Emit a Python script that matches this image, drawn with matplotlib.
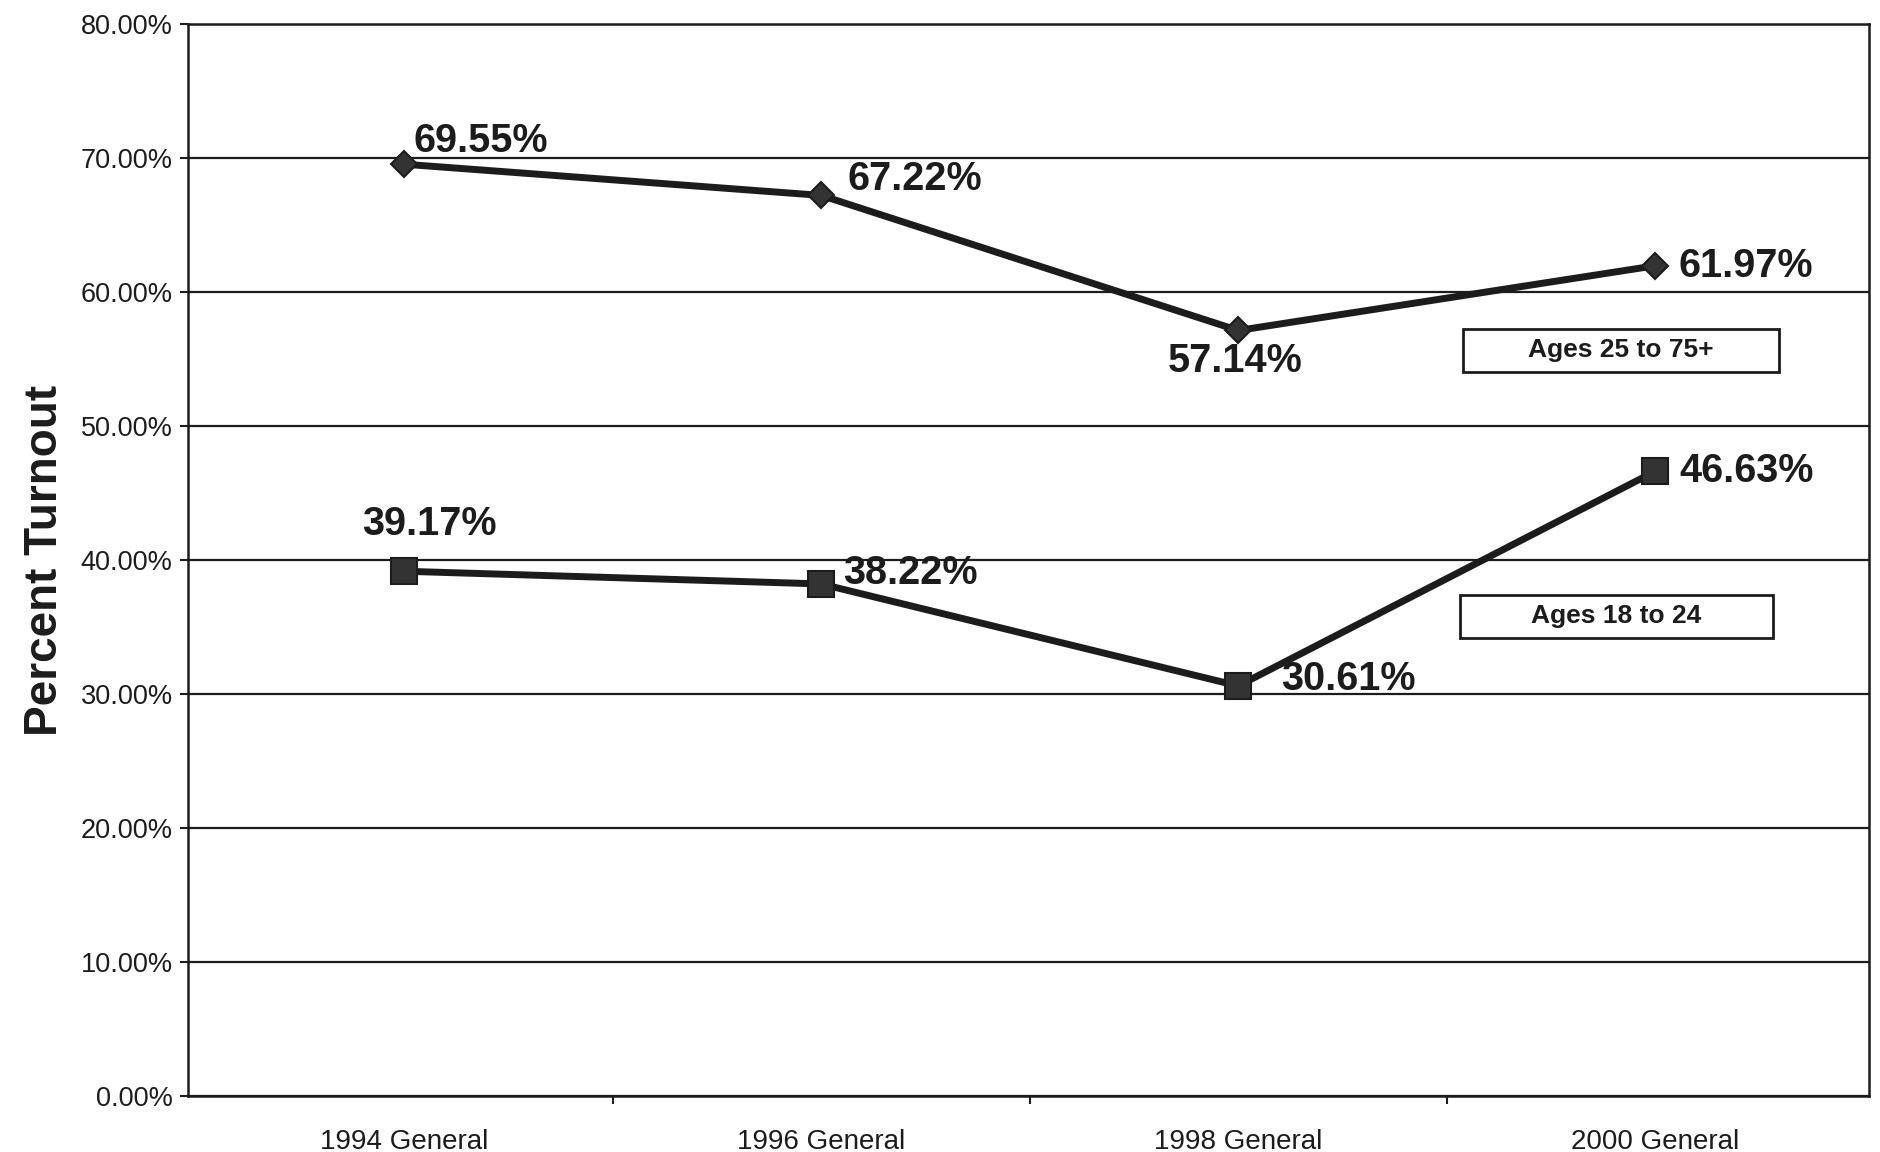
import matplotlib
matplotlib.use("Agg")
import matplotlib.pyplot as plt
from matplotlib.patches import Rectangle
from matplotlib.ticker import FuncFormatter

plt.rcParams["font.family"] = ["Liberation Sans", "DejaVu Sans"]

INK = "#1c1c1c"

elections = ["1994 General", "1996 General", "1998 General", "2000 General"]
older = [69.55, 67.22, 57.14, 61.97]     # ages 25 to 75+
younger = [39.17, 38.22, 30.61, 46.63]   # ages 18 to 24
y_ticks = [0, 10, 20, 30, 40, 50, 60, 70, 80]

# label offsets (points) relative to each data point
older_off = [((7, 17), "left"), ((19, 12), "left"), ((-2, -22), "center"), ((17, 0), "left")]
younger_off = [((18, 34), "center"), ((16, 8), "left"), ((31, 5), "left"), ((17, 0), "left")]

fig = plt.figure(figsize=(18.81, 11.52), dpi=100)
fig.patch.set_facecolor("white")
ax = fig.add_axes([0.09995, 0.0486, 0.8936, 0.9304])
ax.set_facecolor("white")

x = list(range(1, len(elections) + 1))
ax.set_xlim(0.482, 4.512)
ax.set_ylim(0, 80)
ax.set_yticks(y_ticks)
ax.yaxis.set_major_formatter(FuncFormatter(lambda v, _: f"{v:.2f}%"))
ax.grid(axis="y", color=INK, lw=1.6)
ax.set_axisbelow(True)

ax.set_xticks(x)
ax.set_xticklabels(elections)
ax.set_xticks([1.5, 2.5, 3.5], minor=True)
ax.tick_params(axis="x", which="major", length=0, pad=24, labelsize=20, colors=INK)
ax.tick_params(axis="x", which="minor", length=6, width=1.5, color=INK)
ax.tick_params(axis="y", length=6, width=1.5, pad=5, labelsize=19.5, colors=INK)
for sp in ax.spines.values():
    sp.set_color(INK)
    sp.set_linewidth(1.8)

ax.plot(x, older, color=INK, lw=5, marker="D", ms=13, mfc="#333333", mec=INK, mew=1.5, zorder=3)
ax.plot(x, younger, color=INK, lw=5, marker="s", ms=19, mfc="#333333", mec=INK, mew=1.5, zorder=3)

for vals, offs in ((older, older_off), (younger, younger_off)):
    for xi, v, (off, ha) in zip(x, vals, offs):
        ax.annotate(f"{v:.2f}%", (xi, v), xytext=off, textcoords="offset points",
                    ha=ha, va="center", fontsize=28.5, fontweight="bold", color=INK, zorder=4)

# series name boxes (pixel positions in the 1881x1152 sheet)
boxes = [("Ages 25 to 75+", (1463, 329, 1779, 372)), ("Ages 18 to 24", (1460, 595, 1773, 638))]
W, H = 1881, 1152
for label, (x0, y0, x1, y1) in boxes:
    fig.patches.append(Rectangle((x0 / W, 1 - y1 / H), (x1 - x0) / W, (y1 - y0) / H,
                                 transform=fig.transFigure, fill=False, edgecolor=INK, lw=2))
    fig.text((x0 + x1) / 2 / W, 1 - (y0 + y1) / 2 / H, label, ha="center", va="center",
             fontsize=19, fontweight="bold", color=INK)

ax.set_ylabel("Percent Turnout", fontsize=33, fontweight="bold", color=INK, labelpad=10)

fig.savefig("out.png", dpi=100, facecolor="white")
